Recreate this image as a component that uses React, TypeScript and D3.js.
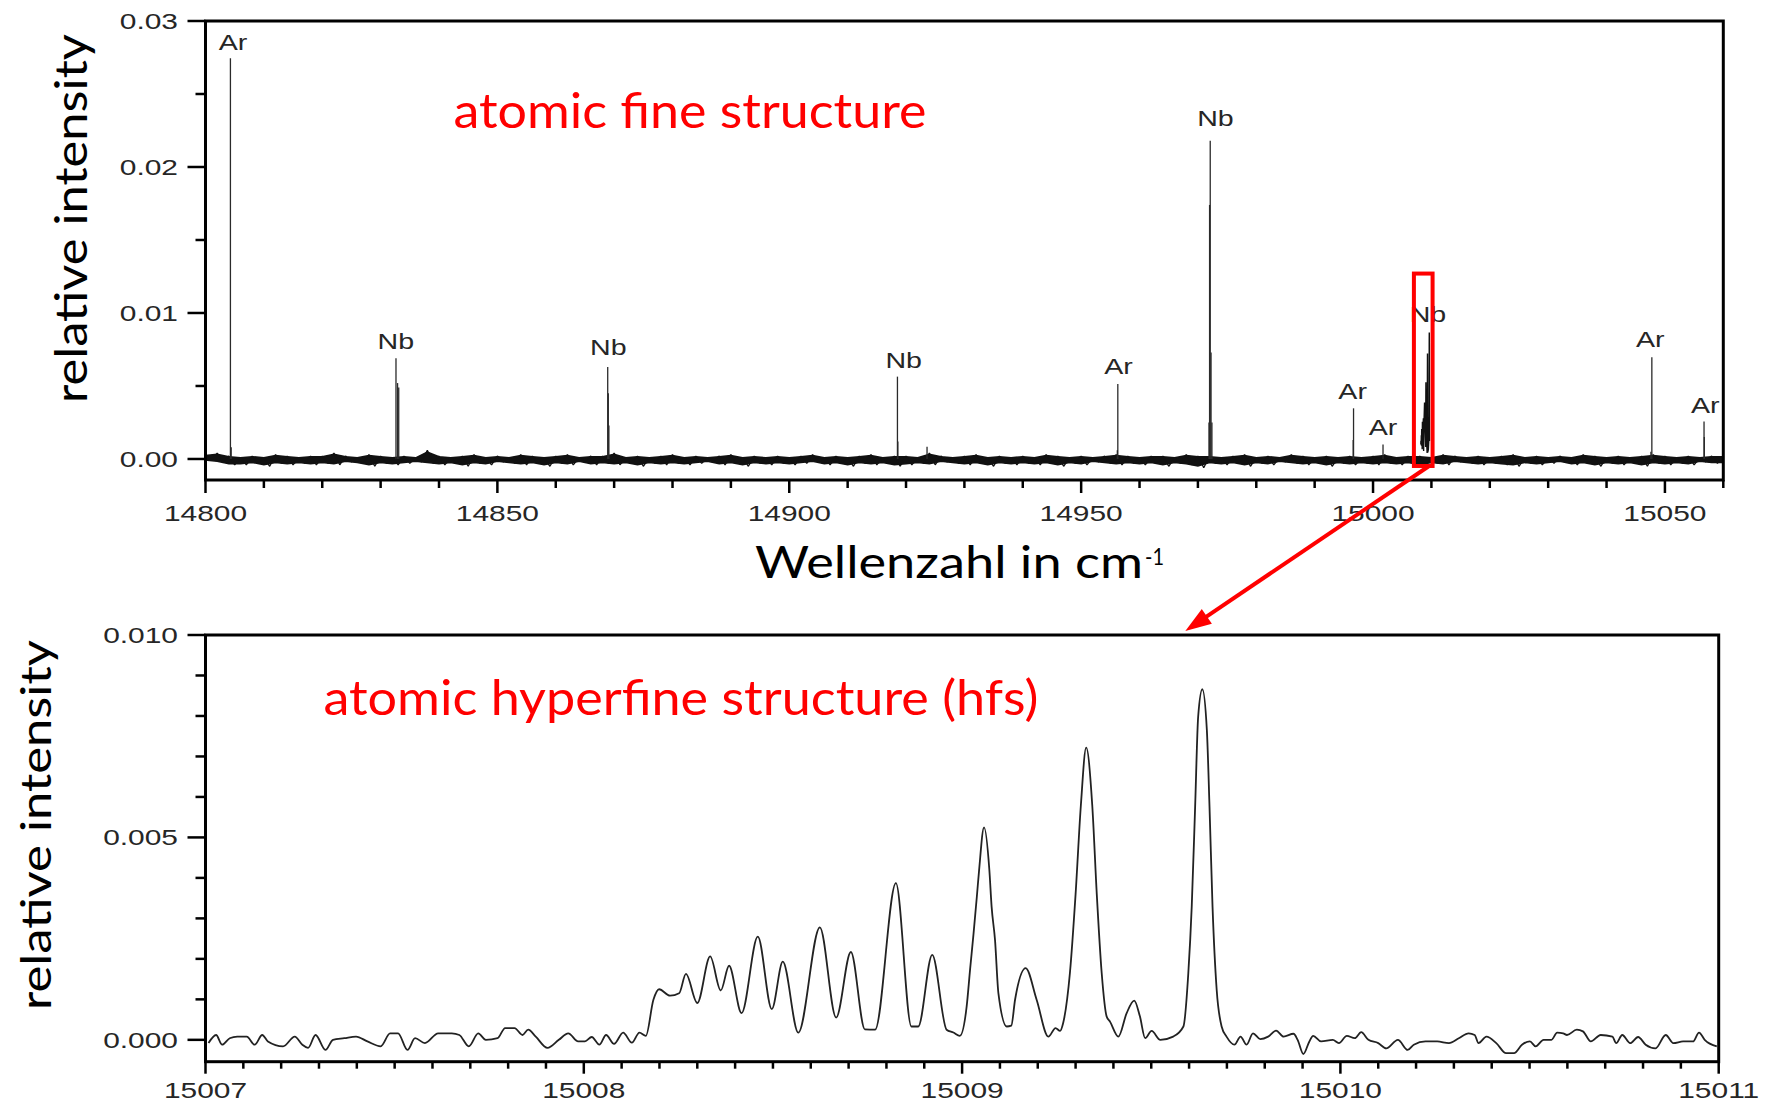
import React from 'react';
import * as d3 from 'd3';

// ---------- overview spectrum (wavenumber in cm^-1) ----------
const overviewXTicks = [14800, 14850, 14900, 14950, 15000, 15050];
const overviewYTicks = [0, 0.01, 0.02, 0.03];
const overviewYLabels = ['0.00', '0.01', '0.02', '0.03'];

// noise band around zero, sampled every 2 cm^-1 from 14800, units of 1e-4
const bandStart = 14800;
const bandStep = 2;
const bandHigh = [
  3, 4, 2, 1, 2, 1, 3, 2, 1, 2,
  2, 4, 2, 1, 3, 2, 1, 2, 1, 6,
  2, 1, 2, 3, 1, 2, 1, 3, 2, 1,
  2, 3, 1, 2, 2, 4, 1, 2, 1, 2,
  3, 1, 2, 1, 2, 3, 1, 2, 1, 2,
  1, 2, 3, 1, 2, 1, 2, 3, 1, 2,
  2, 1, 4, 2, 1, 2, 3, 1, 2, 1,
  2, 1, 3, 2, 1, 2, 1, 2, 3, 2,
  1, 2, 2, 1, 3, 2, 2, 1, 2, 3,
  1, 2, 1, 3, 2, 1, 2, 1, 2, 1,
  2, 3, 1, 2, 2, 1, 3, 2, 1, 2,
  1, 2, 3, 1, 2, 1, 2, 1, 3, 2,
  1, 2, 1, 2, 3, 2, 1, 2, 1, 2,
  2,
];
const bandLow = [
  -1, -2, -4, -4, -3, -5, -3, -4, -3, -4,
  -3, -4, -2, -3, -5, -3, -4, -3, -2, -3,
  -4, -3, -5, -3, -4, -2, -3, -4, -3, -5,
  -3, -4, -2, -4, -3, -4, -3, -5, -3, -4,
  -3, -4, -3, -2, -4, -3, -5, -3, -4, -3,
  -4, -3, -2, -4, -3, -5, -3, -4, -3, -5,
  -4, -3, -4, -2, -3, -4, -3, -5, -3, -4,
  -3, -4, -3, -5, -3, -4, -2, -3, -4, -3,
  -4, -3, -5, -3, -4, -6, -3, -4, -3, -5,
  -3, -4, -2, -3, -4, -3, -5, -3, -4, -3,
  -4, -3, -4, -3, -5, -3, -4, -2, -3, -4,
  -3, -4, -5, -3, -4, -3, -2, -4, -3, -5,
  -3, -4, -3, -5, -3, -4, -3, -4, -2, -3,
  -3,
];

// emission lines in the overview spectrum
const lineWavenumber = [
  14804.27, 14804.4, 14832.63, 14832.9, 14833.1, 14868.9, 14869.0, 14869.1,
  14918.53, 14918.6, 14923.6, 14956.28, 14956.2, 14971.9, 14972.0, 14972.11,
  14972.25, 14972.4, 14996.66, 14996.6, 15001.71, 15047.76, 15047.6, 15056.7, 15056.75,
];
const lineIntensity = [
  0.02744, 0.0008, 0.0069, 0.0052, 0.0049, 0.0063, 0.0045, 0.0023,
  0.00564, 0.0012, 0.00084, 0.00514, 0.0006, 0.0025, 0.0174, 0.0218,
  0.0073, 0.0025, 0.00347, 0.0013, 0.001, 0.00697, 0.0005, 0.00256, 0.0015,
];

// element labels
const labelText = ['Ar', 'Nb', 'Nb', 'Nb', 'Ar', 'Nb', 'Ar', 'Ar', 'Nb', 'Ar', 'Ar'];
const labelWavenumber = [14804.7, 14832.6, 14869.0, 14919.6, 14956.4, 14973.0, 14996.5, 15001.7, 15009.4, 15047.5, 15056.9];
const labelIntensity = [0.0280, 0.0075, 0.0071, 0.0062, 0.0058, 0.0228, 0.0041, 0.00164, 0.0094, 0.0077, 0.00315];

// marked detail region
const detailWavenumber = [15007.0, 15010.2];
const detailIntensity = [-0.00048, 0.0127];

// ---------- hyperfine structure detail ----------
const hfsXTicks = [15007, 15008, 15009, 15010, 15011];
const hfsYTicks = [0, 0.005, 0.01];
const hfsYLabels = ['0.000', '0.005', '0.010'];

const hfsWavenumber = [
  15007.008, 15007.028, 15007.044, 15007.064, 15007.084, 15007.109, 15007.130, 15007.150, 15007.165, 15007.205,
  15007.236, 15007.256, 15007.271, 15007.291, 15007.317, 15007.337, 15007.367, 15007.398, 15007.428, 15007.463,
  15007.488, 15007.509, 15007.534, 15007.554, 15007.580, 15007.615, 15007.651, 15007.671, 15007.696, 15007.721,
  15007.741, 15007.772, 15007.792, 15007.817, 15007.838, 15007.853, 15007.873, 15007.904, 15007.934, 15007.959,
  15007.985, 15008.003, 15008.021, 15008.041, 15008.059, 15008.080, 15008.104, 15008.127, 15008.147, 15008.164,
  15008.184, 15008.199, 15008.228, 15008.252, 15008.270, 15008.300, 15008.334, 15008.362, 15008.384, 15008.417,
  15008.460, 15008.497, 15008.526, 15008.567, 15008.624, 15008.667, 15008.706, 15008.743, 15008.770, 15008.825,
  15008.866, 15008.884, 15008.921, 15008.959, 15008.977, 15008.994, 15009.012, 15009.021, 15009.030, 15009.039,
  15009.045, 15009.058, 15009.072, 15009.078, 15009.087, 15009.096, 15009.118, 15009.130, 15009.140, 15009.168,
  15009.197, 15009.228, 15009.247, 15009.259, 15009.267, 15009.285, 15009.300, 15009.314, 15009.328, 15009.344,
  15009.356, 15009.369, 15009.382, 15009.391, 15009.413, 15009.435, 15009.455, 15009.470, 15009.484, 15009.501,
  15009.524, 15009.558, 15009.585, 15009.598, 15009.607, 15009.616, 15009.624, 15009.635, 15009.647, 15009.654,
  15009.662, 15009.673, 15009.686, 15009.699, 15009.720, 15009.736, 15009.752, 15009.769, 15009.788, 15009.809,
  15009.830, 15009.850, 15009.876, 15009.887, 15009.902, 15009.918, 15009.928, 15009.949, 15009.980, 15009.996,
  15010.017, 15010.038, 15010.055, 15010.074, 15010.100, 15010.121, 15010.152, 15010.178, 15010.194, 15010.225,
  15010.256, 15010.287, 15010.313, 15010.339, 15010.355, 15010.365, 15010.386, 15010.412, 15010.438, 15010.459,
  15010.480, 15010.501, 15010.516, 15010.537, 15010.558, 15010.573, 15010.589, 15010.599, 15010.625, 15010.641,
  15010.662, 15010.688, 15010.719, 15010.729, 15010.745, 15010.766, 15010.787, 15010.807, 15010.833, 15010.860,
  15010.880, 15010.906, 15010.932, 15010.948, 15010.963, 15010.995,
];
const hfsIntensity = [
  -0.00008, 0.00012, -0.00012, 0.00004, 0.00008, 0.00008, -0.00012, 0.00012, -0.00004, -0.00016,
  0.00008, -0.00012, -0.0002, 0.00012, -0.00025, 0.0, 0.00004, 0.00008, -0.00004, -0.00016,
  0.00016, 0.00016, -0.00025, 0.00004, -0.00008, 0.00016, 0.00016, 0.00012, -0.00016, 0.00016,
  0.0, 0.00004, 0.00029, 0.00029, 0.00012, 0.00025, 0.00008, -0.0002, 0.0, 0.00016,
  -0.00004, -0.00004, 0.00007, -0.00012, 0.00012, -0.0001, 0.00018, -0.00007, 0.00018, 0.0001,
  0.00099, 0.00125, 0.00109, 0.00115, 0.00163, 0.00091, 0.00206, 0.00122, 0.00183, 0.00066,
  0.00255, 0.00076, 0.00193, 0.00018, 0.00278, 0.00055, 0.00217, 0.00026, 0.00025, 0.00387,
  0.00033, 0.00033, 0.0021, 0.00025, 0.00018, 0.0001, 0.00082, 0.00173, 0.0026, 0.00354,
  0.0042, 0.00525, 0.0042, 0.00329, 0.00247, 0.00115, 0.00033, 0.00035, 0.00099, 0.00177,
  0.00099, 0.00008, 0.00029, 0.00022, 0.00041, 0.00165, 0.0036, 0.0058, 0.00722, 0.0058,
  0.0036, 0.00165, 0.00058, 0.00045, 0.00008, 0.00066, 0.00097, 0.00058, 0.00004, 0.00022,
  0.0, 0.00008, 0.00033, 0.00165, 0.00329, 0.00576, 0.00798, 0.00866, 0.00765, 0.00576,
  0.00329, 0.00123, 0.00033, 0.00008, -0.00012, 0.00008, -0.00012, 0.00016, 0.00002, 0.00008,
  0.00023, 0.00008, 0.00015, 0.0, -0.00035, -0.00004, 0.0001, -0.00004, 0.0, -0.00008,
  0.0001, 0.00004, 0.00019, 0.0, -0.00008, -0.00021, 0.0, -0.00025, -0.00012, -0.00004,
  -0.00004, -0.00008, 0.00004, 0.00016, 0.00012, -0.00008, 0.00008, -0.00008, -0.00033, -0.00033,
  -0.00012, -0.00004, -0.00016, 0.0, 0.0, 0.00018, 0.00016, 0.00012, 0.00025, 0.00021,
  -0.00004, 0.00012, 0.00008, -0.00008, 0.00012, -0.00008, 0.00007, -0.00012, -0.00021, 0.00012,
  -0.00008, -0.00004, -0.00004, 0.00018, 0.0, -0.00016,
];

// ---------- layout ----------
const W = 1767;
const H = 1111;
const top = { left: 205.5, right: 1723.3, top: 21, bottom: 480 };
const bot = { left: 205.5, right: 1718.7, top: 635, bottom: 1061.7 };

const TICK_FONT = "'Liberation Sans', Arial, Helvetica, sans-serif";
const TITLE_FONT = "Lato, 'Open Sans', sans-serif";
const RED = '#ff0000';
const INK = '#262626';

export default function App() {
  const xTop = d3.scaleLinear().domain([14800, 15060]).range([top.left, top.right]);
  const yTop = d3.scaleLinear().domain([-0.00144, 0.03]).range([top.bottom, top.top]);
  const xBot = d3.scaleLinear().domain([15007, 15011]).range([bot.left, bot.right]);
  const yBot = d3.scaleLinear().domain([-0.00054, 0.01]).range([bot.bottom, bot.top]);

  // noise band: filled envelope plus a zigzag trace for a ragged edge
  const band = bandHigh.map((h, i) => ({ x: bandStart + i * bandStep, hi: h * 1e-4, lo: bandLow[i] * 1e-4 }));
  const bandArea = d3
    .area<{ x: number; hi: number; lo: number }>()
    .x((d) => xTop(d.x))
    .y0((d) => yTop(d.lo * 0.8))
    .y1((d) => yTop(d.hi * 0.8))(band);
  const zig: [number, number][] = [];
  band.forEach((d) => {
    zig.push([d.x, d.hi]);
    if (d.x + bandStep / 2 <= 15060) zig.push([d.x + bandStep / 2, d.lo]);
  });
  const zigPath = d3
    .line<[number, number]>()
    .x((d) => xTop(d[0]))
    .y((d) => yTop(d[1]))(zig);

  const hfs = hfsWavenumber.map((x, i) => ({ x, y: hfsIntensity[i] }));
  const hfsTopPath = d3
    .line<{ x: number; y: number }>()
    .x((d) => xTop(d.x))
    .y((d) => yTop(d.y))(hfs.filter((d) => d.y > 0.0004));
  const hfsPath = d3
    .line<{ x: number; y: number }>()
    .x((d) => xBot(d.x))
    .y((d) => yBot(d.y))
    .curve(d3.curveMonotoneX)(hfs);

  const topMinorX = d3.range(14800, 15060.001, 10).filter((v) => !overviewXTicks.includes(v));
  const topMinorY = [0.005, 0.015, 0.025];
  const botMinorX = d3.range(0, 41).map((i) => 15007 + i * 0.1).filter((_, i) => i % 10 !== 0);
  const botMinorY = d3.range(1, 10).filter((i) => i !== 5).map((i) => i * 0.001);

  // arrow from the marked region to the detail panel
  const ax0 = xTop(15009.6);
  const ay0 = yTop(detailIntensity[0]);
  const ax1 = xBot(15009.59);
  const ay1 = yBot(0.0101);
  const ang = Math.atan2(ay1 - ay0, ax1 - ax0);
  const headL = 26;
  const headW = 9;
  const bx = ax1 - headL * Math.cos(ang);
  const by = ay1 - headL * Math.sin(ang);
  const head = [
    [ax1, ay1],
    [bx - headW * Math.sin(ang), by + headW * Math.cos(ang)],
    [bx + headW * Math.sin(ang), by - headW * Math.cos(ang)],
  ]
    .map((p) => p.join(','))
    .join(' ');

  const tickLabel = (x: number, y: number, text: string, anchor: string, key: string) => (
    <text
      key={key}
      transform={`translate(${x},${y}) scale(1.36,1)`}
      textAnchor={anchor}
      fontFamily={TICK_FONT}
      fontSize={22}
      fill={INK}
    >
      {text}
    </text>
  );

  return (
    <svg
      width={W}
      height={H}
      viewBox={`0 0 ${W} ${H}`}
      style={{ position: 'absolute', left: 0, top: 0, display: 'block', background: '#fff' }}
    >
      <rect x={0} y={0} width={W} height={H} fill="#fff" />

      {/* ---------- overview panel ---------- */}
      <g>
        <path d={bandArea || ''} fill="#111" stroke="#111" strokeWidth={1.5} />
        <path d={zigPath || ''} fill="none" stroke="#111" strokeWidth={1.3} strokeLinejoin="bevel" />
        <path d={hfsTopPath || ''} fill="none" stroke="#111" strokeWidth={1.4} />
        {lineWavenumber.map((wn, i) => (
          <line
            key={`ln${i}`}
            x1={xTop(wn)}
            x2={xTop(wn)}
            y1={yTop(0)}
            y2={yTop(lineIntensity[i])}
            stroke="#2a2a2a"
            strokeWidth={1.3}
          />
        ))}
        {labelText.map((t, i) => (
          <text
            key={`lb${i}`}
            transform={`translate(${xTop(labelWavenumber[i])},${yTop(labelIntensity[i])}) scale(1.3,1)`}
            textAnchor="middle"
            fontFamily={TICK_FONT}
            fontSize={22}
            fill={INK}
          >
            {t}
          </text>
        ))}

        {/* frame */}
        <rect
          x={top.left}
          y={top.top}
          width={top.right - top.left}
          height={top.bottom - top.top}
          fill="none"
          stroke="#000"
          strokeWidth={3}
        />
        {overviewXTicks.map((v) => (
          <line key={`tx${v}`} x1={xTop(v)} x2={xTop(v)} y1={top.bottom} y2={top.bottom + 13} stroke="#000" strokeWidth={2.5} />
        ))}
        {topMinorX.map((v) => (
          <line key={`tmx${v}`} x1={xTop(v)} x2={xTop(v)} y1={top.bottom} y2={top.bottom + 8} stroke="#000" strokeWidth={2.5} />
        ))}
        {overviewYTicks.map((v) => (
          <line key={`ty${v}`} x1={top.left - 18} x2={top.left} y1={yTop(v)} y2={yTop(v)} stroke="#000" strokeWidth={2.5} />
        ))}
        {topMinorY.map((v) => (
          <line key={`tmy${v}`} x1={top.left - 10} x2={top.left} y1={yTop(v)} y2={yTop(v)} stroke="#000" strokeWidth={2.5} />
        ))}
        {overviewXTicks.map((v) => tickLabel(xTop(v), 521, String(v), 'middle', `txl${v}`))}
        {overviewYTicks.map((v, i) => tickLabel(178, yTop(v) + 8, overviewYLabels[i], 'end', `tyl${v}`))}

        <text
          x={453.5}
          y={128}
          fontFamily={TITLE_FONT}
          fontSize={48}
          fill={RED}
          textLength={473}
          lengthAdjust="spacingAndGlyphs"
        >
          atomic fine structure
        </text>
        <text
          transform="translate(87,218.5) rotate(-90)"
          textAnchor="middle"
          fontFamily={TITLE_FONT}
          fontSize={44}
          fill="#000"
          textLength={369}
          lengthAdjust="spacingAndGlyphs"
        >
          relative intensity
        </text>
        <text
          x={755}
          y={578}
          fontFamily={TITLE_FONT}
          fontSize={44}
          fill="#000"
          textLength={388}
          lengthAdjust="spacingAndGlyphs"
        >
          Wellenzahl in cm
        </text>
        <text x={1145} y={565} fontFamily={TITLE_FONT} fontSize={24} fill="#000" textLength={19} lengthAdjust="spacingAndGlyphs">
          -1
        </text>

        {/* marked region */}
        <rect
          x={xTop(detailWavenumber[0])}
          y={yTop(detailIntensity[1])}
          width={xTop(detailWavenumber[1]) - xTop(detailWavenumber[0])}
          height={yTop(detailIntensity[0]) - yTop(detailIntensity[1])}
          fill="none"
          stroke={RED}
          strokeWidth={4}
        />
      </g>

      {/* arrow */}
      <line x1={ax0} y1={ay0} x2={bx + 4 * Math.cos(ang)} y2={by + 4 * Math.sin(ang)} stroke={RED} strokeWidth={4} />
      <polygon points={head} fill={RED} />

      {/* ---------- hyperfine detail panel ---------- */}
      <g>
        <path d={hfsPath || ''} fill="none" stroke="#222" strokeWidth={1.8} />
        <rect
          x={bot.left}
          y={bot.top}
          width={bot.right - bot.left}
          height={bot.bottom - bot.top}
          fill="none"
          stroke="#000"
          strokeWidth={3}
        />
        {hfsXTicks.map((v) => (
          <line key={`bx${v}`} x1={xBot(v)} x2={xBot(v)} y1={bot.bottom} y2={bot.bottom + 12} stroke="#000" strokeWidth={2.5} />
        ))}
        {botMinorX.map((v, i) => (
          <line key={`bmx${i}`} x1={xBot(v)} x2={xBot(v)} y1={bot.bottom} y2={bot.bottom + 7} stroke="#000" strokeWidth={2.5} />
        ))}
        {hfsYTicks.map((v) => (
          <line key={`by${v}`} x1={bot.left - 18} x2={bot.left} y1={yBot(v)} y2={yBot(v)} stroke="#000" strokeWidth={2.5} />
        ))}
        {botMinorY.map((v, i) => (
          <line key={`bmy${i}`} x1={bot.left - 10} x2={bot.left} y1={yBot(v)} y2={yBot(v)} stroke="#000" strokeWidth={2.5} />
        ))}
        {hfsXTicks.map((v) => tickLabel(xBot(v), 1098, String(v), 'middle', `bxl${v}`))}
        {hfsYTicks.map((v, i) => tickLabel(178, yBot(v) + 8, hfsYLabels[i], 'end', `byl${v}`))}

        <text
          x={323.4}
          y={715}
          fontFamily={TITLE_FONT}
          fontSize={48}
          fill={RED}
          textLength={715}
          lengthAdjust="spacingAndGlyphs"
        >
          atomic hyperfine structure (hfs)
        </text>
        <text
          transform="translate(51,825) rotate(-90)"
          textAnchor="middle"
          fontFamily={TITLE_FONT}
          fontSize={42}
          fill="#000"
          textLength={370}
          lengthAdjust="spacingAndGlyphs"
        >
          relative intensity
        </text>
      </g>
    </svg>
  );
}
